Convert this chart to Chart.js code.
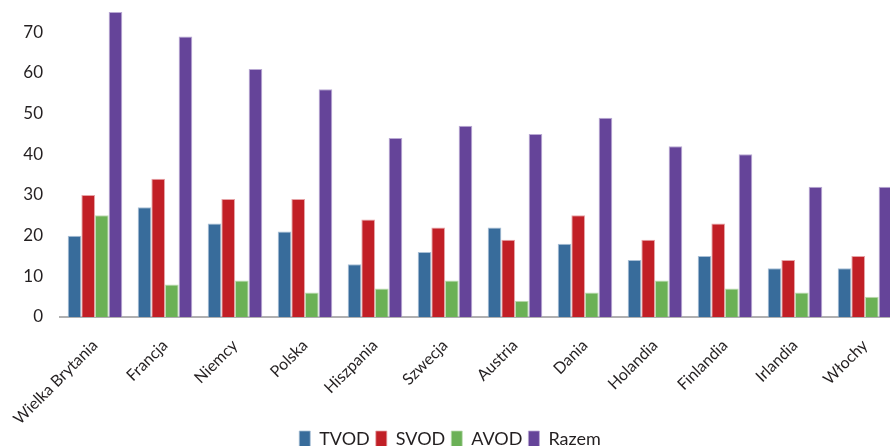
<!DOCTYPE html>
<html>
<head>
<meta charset="utf-8">
<script src="https://cdn.jsdelivr.net/npm/chart.js@4.4.1/dist/chart.umd.min.js"></script>
<style>
  html, body { margin: 0; padding: 0; background: #fff; overflow: hidden; }
  #wrap { width: 900px; height: 458px; position: relative; }
</style>
</head>
<body>
<div id="wrap"><canvas id="chartVod"></canvas></div>
<script>
// Dane - liczba serwisów VOD wg kraju
const countries = ["Wielka Brytania", "Francja", "Niemcy", "Polska", "Hiszpania", "Szwecja",
                   "Austria", "Dania", "Holandia", "Finlandia", "Irlandia", "Włochy"];
const tvod  = [20, 27, 23, 21, 13, 16, 22, 18, 14, 15, 12, 12];
const svod  = [30, 34, 29, 29, 24, 22, 19, 25, 19, 23, 14, 15];
const avod  = [25,  8,  9,  6,  7,  9,  4,  6,  9,  7,  6,  5];
const razem = [75, 69, 61, 56, 44, 47, 45, 49, 42, 40, 32, 32];
const yTicks = [0, 10, 20, 30, 40, 50, 60, 70];

const font = "'Lato', 'Open Sans', sans-serif";

function bar(label, values, color, edge) {
  return {
    label: label,
    data: values,
    backgroundColor: color,
    borderColor: edge,
    borderWidth: { top: 1, left: 1, right: 1, bottom: 0 },
    borderSkipped: 'bottom',
    barPercentage: 1,
    categoryPercentage: 0.78
  };
}

const chartVod = new Chart(document.getElementById('chartVod'), {
  type: 'bar',
  data: {
    labels: countries,
    datasets: [
      bar('TVOD', tvod, '#386c9b', '#a9c0d6'),
      bar('SVOD', svod, '#c11f26', '#e6a3a6'),
      bar('AVOD', avod, '#6bb156', '#bfdcb3'),
      bar('Razem', razem, '#654499', '#b9a9d3')
    ]
  },
  options: {
    responsive: true,
    maintainAspectRatio: false,
    animation: false,
    layout: { padding: { top: 12, right: 0, left: 0, bottom: 0 } },
    plugins: {
      tooltip: { enabled: false },
      legend: {
        position: 'bottom',
        labels: {
          boxWidth: 11,
          boxHeight: 16,
          padding: 6,
          color: '#231f20',
          font: { family: font, size: 18 }
        }
      }
    },
    scales: {
      x: {
        grid: { display: false },
        border: { display: true, color: '#b0b0b0', width: 2 },
        ticks: {
          color: '#231f20',
          font: { family: font, size: 16 },
          minRotation: 45,
          maxRotation: 45,
          autoSkip: false,
          padding: 11
        },
        afterFit: function(scale) { scale.height = 107; }
      },
      y: {
        min: 0,
        max: 75,
        grid: { display: false },
        border: { display: false },
        afterBuildTicks: function(scale) { scale.ticks = yTicks.map(v => ({ value: v })); },
        ticks: {
          color: '#231f20',
          font: { family: font, size: 17 },
          padding: 9
        },
        afterFit: function(scale) { scale.width = 60; scale.paddingTop = 0; scale.paddingBottom = 0; }
      }
    }
  }
});
</script>
</body>
</html>
